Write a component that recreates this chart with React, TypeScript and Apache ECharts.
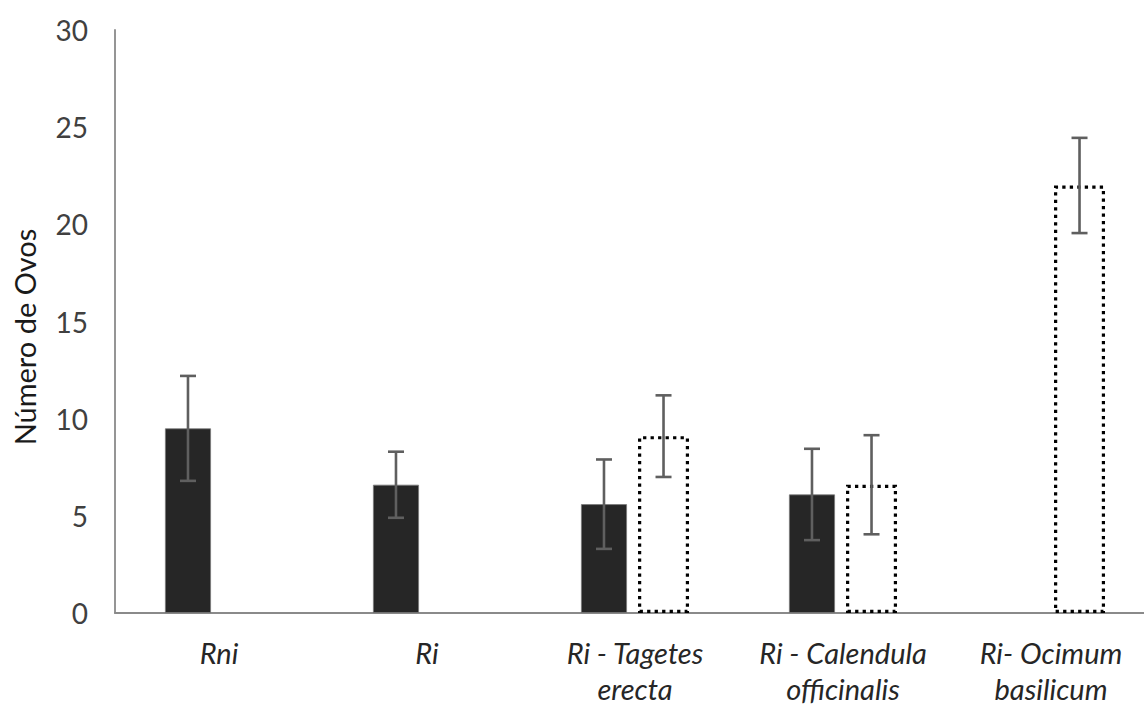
import React, { useEffect, useRef } from "react";
import * as echarts from "echarts";

// Treatments along the x axis
const categories = [
  "Rni",
  "Ri",
  "Ri - Tagetes\nerecta",
  "Ri - Calendula\nofficinalis",
  "Ri- Ocimum\nbasilicum",
];

// Mean egg counts and their error half-widths, per treatment
const solidMeans = [9.5, 6.6, 5.6, 6.1, null];
const solidErrors = [2.7, 1.7, 2.3, 2.35, null];
const dottedMeans = [null, null, 9.1, 6.6, 22.0];
const dottedErrors = [null, null, 2.1, 2.55, 2.45];

// Y axis range and tick step
const yMin = 0;
const yMax = 30;
const yStep = 5;
const yTitle = "Número de Ovos";

// Bar geometry (px) — mirrors ECharts' own side-by-side bar layout
const SOLID_WIDTH = 46;
const DOTTED_WIDTH = 51;
const BAR_GAP = 0.24;
const GROUP_WIDTH = SOLID_WIDTH * (1 + BAR_GAP) + DOTTED_WIDTH;
const SOLID_OFFSET = -GROUP_WIDTH / 2 + SOLID_WIDTH / 2;
const DOTTED_OFFSET = -GROUP_WIDTH / 2 + SOLID_WIDTH * (1 + BAR_GAP) + DOTTED_WIDTH / 2;

const FONT = "Lato, 'Open Sans', sans-serif";

function errorData(means: (number | null)[], errs: (number | null)[]) {
  const out: number[][] = [];
  means.forEach((m, i) => {
    const e = errs[i];
    if (m != null && e != null) out.push([i, m, e]);
  });
  return out;
}

function makeErrorRenderer(offset: number) {
  return (params: any, api: any) => {
    const idx = api.value(0);
    const mean = api.value(1);
    const err = api.value(2);
    const hi = api.coord([idx, mean + err]);
    const lo = api.coord([idx, mean - err]);
    const x = hi[0] + offset;
    const cap = 8;
    const style = { stroke: "#5f5f5f", lineWidth: 2.6 };
    return {
      type: "group",
      children: [
        { type: "line", shape: { x1: x, y1: hi[1], x2: x, y2: lo[1] }, style },
        { type: "line", shape: { x1: x - cap, y1: hi[1], x2: x + cap, y2: hi[1] }, style },
        { type: "line", shape: { x1: x - cap, y1: lo[1], x2: x + cap, y2: lo[1] }, style },
      ],
    };
  };
}

export default function App() {
  const ref = useRef<HTMLDivElement>(null);

  useEffect(() => {
    if (!ref.current) return;
    const chart = echarts.init(ref.current, undefined, { renderer: "svg" });
    chart.setOption({
      animation: false,
      backgroundColor: "#ffffff",
      grid: { left: 115, right: 5, top: 30, bottom: 91, containLabel: false },
      graphic: [
        {
          type: "text",
          x: 24,
          y: 337,
          rotation: Math.PI / 2,
          style: {
            text: yTitle,
            fontFamily: FONT,
            fontSize: 29,
            fill: "#1a1a1a",
            align: "center",
            verticalAlign: "middle",
          },
        },
      ],
      xAxis: {
        type: "category",
        data: categories,
        axisLine: { show: true, lineStyle: { color: "#8a8a8a", width: 1.8 } },
        axisTick: { show: false },
        axisLabel: {
          interval: 0,
          margin: 21,
          fontFamily: FONT,
          fontStyle: "italic",
          fontSize: 29,
          lineHeight: 36,
          color: "#262626",
        },
      },
      yAxis: {
        type: "value",
        min: yMin,
        max: yMax,
        interval: yStep,
        axisLine: { show: true, lineStyle: { color: "#8a8a8a", width: 1.8 } },
        axisTick: { show: false },
        splitLine: { show: false },
        axisLabel: { margin: 27, fontFamily: FONT, fontSize: 28, color: "#404040" },
      },
      series: [
        {
          name: "Série 1",
          type: "bar",
          data: solidMeans,
          barWidth: SOLID_WIDTH,
          barGap: `${BAR_GAP * 100}%`,
          itemStyle: { color: "#262626", borderColor: "#7a7a7a", borderWidth: 0.8 },
          z: 2,
        },
        {
          name: "Série 2",
          type: "bar",
          data: dottedMeans,
          barWidth: DOTTED_WIDTH,
          barGap: `${BAR_GAP * 100}%`,
          itemStyle: {
            color: "#ffffff",
            borderColor: "#000000",
            borderWidth: 3.2,
            borderType: [3.3, 4.2],
          },
          z: 2,
        },
        {
          type: "custom",
          data: errorData(solidMeans, solidErrors),
          renderItem: makeErrorRenderer(SOLID_OFFSET),
          z: 5,
          silent: true,
        },
        {
          type: "custom",
          data: errorData(dottedMeans, dottedErrors),
          renderItem: makeErrorRenderer(DOTTED_OFFSET),
          z: 5,
          silent: true,
        },
      ],
    });
    return () => chart.dispose();
  }, []);

  return (
    <div
      style={{
        position: "fixed",
        left: 0,
        top: 0,
        width: 1144,
        height: 706,
        overflow: "hidden",
        background: "#fff",
      }}
    >
      <div ref={ref} style={{ width: 1160, height: 706 }} />
    </div>
  );
}
